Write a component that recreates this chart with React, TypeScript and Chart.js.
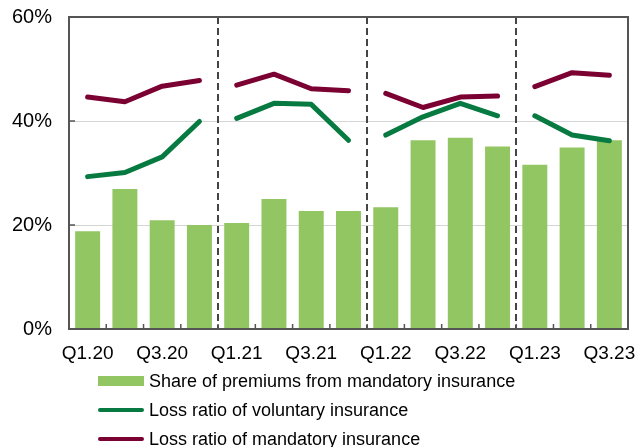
import React, { useEffect, useRef } from "react";
import { Chart, registerables } from "chart.js";

Chart.register(...registerables);

const categories = [
  "Q1.20", "Q2.20", "Q3.20", "Q4.20",
  "Q1.21", "Q2.21", "Q3.21", "Q4.21",
  "Q1.22", "Q2.22", "Q3.22", "Q4.22",
  "Q1.23", "Q2.23", "Q3.23",
];
const shareMandatory = [18.8, 26.9, 20.9, 20.0, 20.4, 25.0, 22.7, 22.7, 23.4, 36.3, 36.8, 35.1, 31.6, 34.9, 36.3];
const lossVoluntary = [29.3, 30.1, 33.1, 39.9, 40.5, 43.4, 43.2, 36.3, 37.3, 40.8, 43.4, 41.0, 41.0, 37.3, 36.2];
const lossMandatory = [44.6, 43.7, 46.7, 47.8, 46.9, 49.0, 46.2, 45.8, 45.3, 42.6, 44.6, 44.8, 46.6, 49.3, 48.8];
const yTicks = [0, 20, 40, 60];
const legendLabels = [
  "Share of premiums from mandatory insurance",
  "Loss ratio of voluntary insurance",
  "Loss ratio of mandatory insurance",
];

const BAR = "#92C663";
const GREEN = "#067A40";
const MAROON = "#7A0131";
const AXIS = "#555555";
const FONT = "Liberation Sans, Arial, sans-serif";

const framePlugin = {
  id: "frame",
  afterDatasetsDraw(chart: any) {
    const { ctx, chartArea: a, scales } = chart;
    const x = scales.x;
    const y = scales.y;
    ctx.save();
    // dashed year separators
    ctx.strokeStyle = "#444444";
    ctx.lineWidth = 2;
    ctx.setLineDash([7, 4]);
    for (let i = 3; i < categories.length - 1; i += 4) {
      const px = Math.round((x.getPixelForValue(i) + x.getPixelForValue(i + 1)) / 2);
      ctx.beginPath();
      ctx.moveTo(px, a.top);
      ctx.lineTo(px, a.bottom);
      ctx.stroke();
    }
    ctx.setLineDash([]);
    // frame
    ctx.strokeStyle = AXIS;
    ctx.lineWidth = 2;
    ctx.strokeRect(a.left, a.top, a.right - a.left, a.bottom - a.top);
    // inward ticks
    ctx.lineWidth = 1.5;
    for (let i = 0; i < categories.length - 1; i++) {
      const px = (x.getPixelForValue(i) + x.getPixelForValue(i + 1)) / 2;
      ctx.beginPath();
      ctx.moveTo(px, a.bottom);
      ctx.lineTo(px, a.bottom - 5);
      ctx.stroke();
    }
    for (const t of yTicks) {
      const py = y.getPixelForValue(t);
      ctx.beginPath();
      ctx.moveTo(a.left, py);
      ctx.lineTo(a.left + 6, py);
      ctx.stroke();
    }
    ctx.restore();
  },
  afterDraw(chart: any) {
    const { ctx } = chart;
    const h = chart.height;
    const rows = [h - 66, h - 37, h - 8];
    const bx = 98;
    const bw = 46;
    ctx.save();
    ctx.font = `18px ${FONT}`;
    ctx.fillStyle = "#000";
    ctx.textBaseline = "middle";
    ctx.textAlign = "left";
    rows.forEach((ry, i) => {
      if (i === 0) {
        ctx.fillStyle = BAR;
        ctx.fillRect(bx, ry - 5, bw, 10);
      } else {
        ctx.strokeStyle = i === 1 ? GREEN : MAROON;
        ctx.lineWidth = 4;
        ctx.lineCap = "round";
        ctx.beginPath();
        ctx.moveTo(bx + 2, ry);
        ctx.lineTo(bx + bw - 2, ry);
        ctx.stroke();
      }
      ctx.fillStyle = "#000";
      ctx.fillText(legendLabels[i], bx + bw + 5, ry + 1);
    });
    ctx.restore();
  },
};

function yearBreak(color: string) {
  return (c: any) => (c.p0DataIndex % 4 === 3 ? "rgba(0,0,0,0)" : color);
}

export default function App() {
  const ref = useRef<HTMLCanvasElement>(null);
  useEffect(() => {
    if (!ref.current) return;
    const chart = new Chart(ref.current, {
      type: "bar",
      data: {
        labels: categories,
        datasets: [
          {
            type: "line",
            label: legendLabels[2],
            data: lossMandatory,
            borderColor: MAROON,
            backgroundColor: MAROON,
            borderWidth: 5,
            borderCapStyle: "round",
            borderJoinStyle: "round",
            pointRadius: 0,
            tension: 0,
            segment: { borderColor: yearBreak(MAROON) },
            order: 1,
          } as any,
          {
            type: "line",
            label: legendLabels[1],
            data: lossVoluntary,
            borderColor: GREEN,
            backgroundColor: GREEN,
            borderWidth: 5,
            borderCapStyle: "round",
            borderJoinStyle: "round",
            pointRadius: 0,
            tension: 0,
            segment: { borderColor: yearBreak(GREEN) },
            order: 2,
          } as any,
          {
            type: "bar",
            label: legendLabels[0],
            data: shareMandatory,
            backgroundColor: BAR,
            barPercentage: 0.67,
            categoryPercentage: 1,
            order: 3,
          },
        ],
      },
      options: {
        animation: false,
        responsive: true,
        maintainAspectRatio: false,
        layout: { padding: { top: 17, right: 10, bottom: 78, left: 12 } },
        plugins: { legend: { display: false }, tooltip: { enabled: false } },
        scales: {
          x: {
            grid: { display: false },
            border: { display: false },
            afterFit: (s: any) => {
              s.height = 40;
              s.paddingLeft = 0;
              s.paddingRight = 0;
            },
            ticks: {
              autoSkip: false,
              maxRotation: 0,
              padding: 5,
              color: "#000",
              font: { family: FONT, size: 19 },
              callback: (_v: any, i: number) => (i % 2 === 0 ? categories[i] : ""),
            },
          },
          y: {
            min: 0,
            max: 60,
            grid: { color: "#d4d4d4", lineWidth: 1, drawTicks: false },
            border: { display: false },
            afterFit: (s: any) => {
              s.width = 57;
              s.paddingTop = 0;
              s.paddingBottom = 0;
            },
            ticks: {
              stepSize: 20,
              padding: 17,
              color: "#000",
              font: { family: FONT, size: 20 },
              callback: (v: any) => v + "%",
            },
          },
        },
      },
      plugins: [framePlugin],
    });
    return () => chart.destroy();
  }, []);
  return (
    <div style={{ position: "fixed", left: 0, top: 0, width: 638, height: 447 }}>
      <canvas ref={ref} />
    </div>
  );
}
